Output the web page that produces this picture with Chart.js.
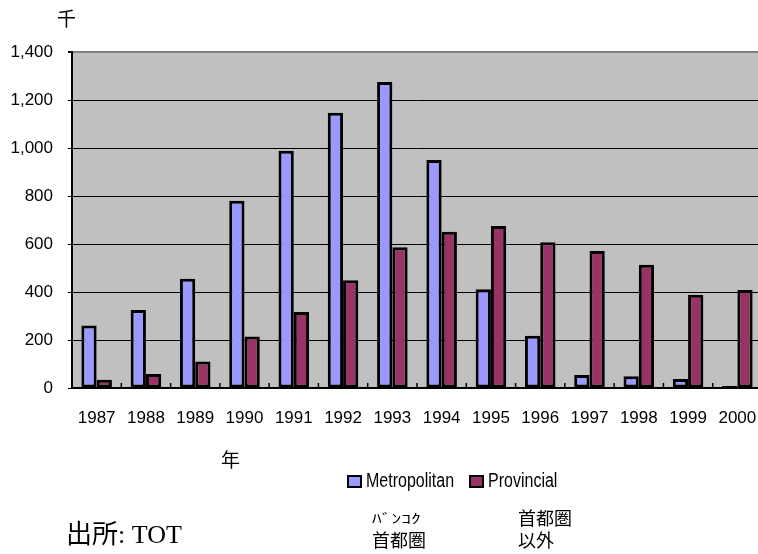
<!DOCTYPE html>
<html>
<head>
<meta charset="utf-8">
<script src="https://cdn.jsdelivr.net/npm/chart.js@4/dist/chart.umd.min.js"></script>
<style>
  body { margin: 0; background: #fff; overflow: hidden; }
  #wrap { position: relative; width: 770px; height: 554px; }
  .note { position: absolute; line-height: 1; white-space: nowrap; color: #000; }
  .jp { font-family: "Noto Sans CJK JP", sans-serif; }
  .serif { font-family: "Liberation Serif", "Noto Sans CJK JP", serif; }
  #legend { position: absolute; left: 347px; top: 472px; font-family: "Liberation Sans", Arial, sans-serif; font-size: 16px; display: flex; align-items: center; }
  #legend .item { display: flex; align-items: center; margin-right: 15px; }
  #legend .box { width: 11px; height: 9px; border: 2px solid #000; margin-right: 4px; }
  #legend .txt { display: inline-block; transform: scaleY(1.25); }
</style>
</head>
<body>
<div id="wrap">
  <canvas id="chart" width="770" height="554"></canvas>
  <div class="note jp" style="left:57px; top:8px; font-size:19px;">千</div>
  <div class="note jp" style="left:221px; top:449px; font-size:19px;">年</div>
  <div id="legend"></div>
  <div class="note serif" style="left:66px; top:522px; font-size:26px;">出所: TOT</div>
  <div class="note serif" style="left:372px; top:512px; font-size:13px; transform:scaleX(1.5); transform-origin:left;">ﾊﾞﾝｺｸ</div>
  <div class="note serif" style="left:372px; top:532px; font-size:18px;">首都圏</div>
  <div class="note serif" style="left:518px; top:510px; font-size:18px;">首都圏</div>
  <div class="note serif" style="left:518px; top:532px; font-size:18px;">以外</div>
</div>
<script>
// data (thousands)
const years = ["1987", "1988", "1989", "1990", "1991", "1992", "1993", "1994", "1995", "1996", "1997", "1998", "1999", "2000"];
const metropolitan = [260, 325, 455, 780, 989, 1147, 1275, 950, 411, 218, 54, 49, 37, 8];
const provincial = [34, 58, 110, 215, 317, 449, 586, 651, 675, 607, 571, 514, 389, 408];
const seriesNames = ["Metropolitan", "Provincial"];
const seriesColors = ["#9999FF", "#993366"];
const yTicks = [0, 200, 400, 600, 800, 1000, 1200, 1400];

const plotBackground = {
    id: "plotBackground",
    beforeDraw(chart) {
        const { ctx, chartArea: a } = chart;
        ctx.save();
        ctx.fillStyle = "#C0C0C0";
        ctx.fillRect(a.left, a.top, a.right - a.left, a.bottom - a.top);
        ctx.restore();
    }
};

// small marks between categories, pointing up from the axis
const innerTicks = {
    id: "innerTicks",
    afterDatasetsDraw(chart) {
        const { ctx, chartArea: a } = chart;
        const x = chart.scales.x;
        ctx.save();
        ctx.strokeStyle = "#000";
        ctx.lineWidth = 1.5;
        for (let i = 1; i < years.length; i++) {
            const px = (x.getPixelForTick(i - 1) + x.getPixelForTick(i)) / 2;
            ctx.beginPath();
            ctx.moveTo(px, a.bottom);
            ctx.lineTo(px, a.bottom - 5);
            ctx.stroke();
        }
        ctx.restore();
    }
};

const chart = new Chart(document.getElementById("chart"), {
    type: "bar",
    data: {
        labels: years,
        datasets: [
            { label: seriesNames[0], data: metropolitan, backgroundColor: seriesColors[0] },
            { label: seriesNames[1], data: provincial, backgroundColor: seriesColors[1] }
        ]
    },
    options: {
        responsive: false,
        animation: false,
        layout: { padding: { left: 0, top: 52, right: 8, bottom: 116 } },
        datasets: {
            bar: {
                borderColor: "#000",
                borderWidth: 3,
                borderSkipped: false,
                categoryPercentage: 0.62,
                barPercentage: 1.0
            }
        },
        plugins: {
            legend: { display: false },
            tooltip: { enabled: false }
        },
        scales: {
            x: {
                afterFit: (scale) => { scale.height = 50; },
                grid: { display: true, drawOnChartArea: false, drawTicks: true, tickLength: 20, tickColor: "rgba(0,0,0,0)" },
                border: { display: true, color: "#000", width: 2 },
                ticks: {
                    color: "#000",
                    padding: 0,
                    maxRotation: 0,
                    autoSkip: false,
                    font: { family: "Liberation Sans", size: 17 }
                }
            },
            y: {
                min: 0,
                max: 1400,
                afterFit: (scale) => { scale.width = 72; },
                afterBuildTicks: (scale) => { scale.ticks = yTicks.map(v => ({ value: v })); },
                grid: {
                    color: (c) => (c.tick && c.tick.value === 1400 ? "#808080" : "#000"),
                    lineWidth: (c) => (c.tick && c.tick.value === 1400 ? 2 : 1),
                    tickColor: "#000",
                    tickLength: 4
                },
                border: { display: true, color: "#000", width: 2 },
                ticks: {
                    color: "#000",
                    padding: 15,
                    font: { family: "Liberation Sans", size: 17 },
                    callback: (v) => v.toLocaleString("en-US")
                }
            }
        }
    },
    plugins: [plotBackground, innerTicks]
});

// legend built from the datasets
const legend = document.getElementById("legend");
chart.data.datasets.forEach((ds) => {
    const item = document.createElement("span");
    item.className = "item";
    item.innerHTML = `<span class="box" style="background:${ds.backgroundColor}"></span><span class="txt">${ds.label}</span>`;
    legend.appendChild(item);
});
</script>
</body>
</html>
